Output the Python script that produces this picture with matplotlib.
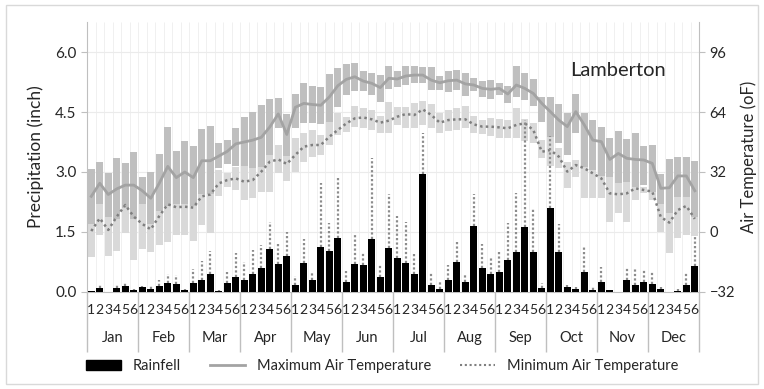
import numpy as np
import matplotlib.pyplot as plt
from matplotlib.patches import Rectangle
from matplotlib.lines import Line2D
from matplotlib.transforms import blended_transform_factory

months = ["Jan", "Feb", "Mar", "Apr", "May", "Jun",
          "Jul", "Aug", "Sep", "Oct", "Nov", "Dec"]
periods = ["1", "2", "3", "4", "5", "6"]

# rainfall (inch) per 5-day period and the top of its dotted error bar
rain = [0.02, 0.10, 0.00, 0.09, 0.14, 0.05,
        0.12, 0.08, 0.15, 0.22, 0.21, 0.05,
        0.23, 0.31, 0.44, 0.03, 0.23, 0.38,
        0.29, 0.46, 0.59, 1.07, 0.70, 0.90,
        0.17, 0.72, 0.29, 1.13, 1.03, 1.36,
        0.25, 0.71, 0.68, 1.32, 0.38, 1.10,
        0.85, 0.72, 0.45, 2.94, 0.18, 0.08,
        0.29, 0.75, 0.26, 1.65, 0.61, 0.44,
        0.49, 0.79, 0.99, 1.63, 1.00, 0.09,
        2.09, 0.99, 0.13, 0.08, 0.49, 0.06,
        0.25, 0.04, 0.00, 0.31, 0.18, 0.25,
        0.20, 0.08, 0.00, 0.03, 0.18, 0.66]
rain_hi = [0.02, 0.17, 0.00, 0.21, 0.22, 0.07,
           0.14, 0.17, 0.30, 0.45, 0.43, 0.07,
           0.58, 0.78, 1.03, 0.04, 0.50, 0.98,
           0.76, 1.05, 1.17, 1.76, 1.19, 1.50,
           0.40, 1.32, 0.47, 2.72, 1.72, 2.84,
           0.53, 1.43, 0.97, 3.34, 0.68, 2.46,
           1.90, 1.76, 0.95, 3.98, 0.47, 0.28,
           0.68, 1.25, 0.45, 2.45, 1.20, 0.84,
           1.00, 1.72, 2.47, 4.30, 2.07, 0.23,
           3.90, 1.70, 0.17, 0.13, 1.13, 0.12,
           0.63, 0.04, 0.00, 0.62, 0.57, 0.57,
           0.50, 0.13, 0.00, 0.08, 0.48, 1.40]

# air temperature (oF)
tmax = [19, 26, 20, 23, 25, 25,
        22, 18, 26, 35, 29, 32,
        29, 38, 38, 40.5, 43, 47,
        48, 49, 50.5, 56, 63, 52,
        66.5, 68.6, 68, 67.6, 72, 78,
        81.4, 82.8, 80.5, 79.3, 77, 82,
        81.6, 83.2, 83.7, 83.7, 81, 79.6,
        80.7, 81, 79, 78.4, 76.6, 76.1,
        76.6, 73.6, 78.4, 76.6, 73.9, 68.6,
        64.2, 59.7, 56.2, 64.2, 57.1, 49,
        48.2, 38.7, 41.9, 39.3, 38.7, 38.4,
        36.6, 23.3, 23.6, 29.9, 29.9, 22]
tmax_hi = [33.4, 37.2, 31.3, 39.3, 36.6, 42.8,
           29.2, 32.2, 41.4, 56.2, 43.4, 48.7,
           45.9, 54.8, 56.5, 47.3, 49.1, 55.6,
           61.5, 64.2, 67.7, 70.9, 71.3, 62.7,
           73.4, 79.3, 78, 77.5, 84.3, 87.6,
           89.4, 90, 86.1, 85, 83.7, 88.7,
           85.9, 88.7, 88.7, 88.2, 87.8, 83.2,
           85.9, 86.4, 85, 82, 80.7, 81.1,
           79.6, 77.9, 88.7, 84.6, 81.4, 71.8,
           71.8, 68.3, 63.3, 73.6, 63.3, 59.7,
           55.8, 49.9, 54, 49.4, 53, 45.9,
           46.4, 31, 38.7, 40.2, 40.2, 37.9]
tmax_lo = [4.3, 15, 8, 7, 13, 7,
           15, 4, 11, 14, 15, 15,
           14, 20, 20, 34, 36, 35,
           35, 34, 34.8, 41.1, 55.3, 40.5,
           55.3, 57.9, 57.9, 57.4, 58.8, 66.5,
           73.1, 75.4, 75.4, 73.1, 69.5, 76.1,
           77.1, 78.4, 79.3, 79.6, 75.7, 75.7,
           74.8, 75.7, 72.5, 75.4, 71.8, 70.9,
           73.1, 68.6, 72.2, 70.4, 67.2, 58.8,
           50.8, 47.3, 41.1, 52.6, 34.8, 33.1,
           29.9, 29.5, 25.9, 26.8, 24.2, 25.1,
           21.5, 15, 9.9, 18.8, 18.8, 8.2]
tmin = [0.5, 7.3, 1.1, 8.2, 14.4, 8.2,
        4.3, 1.4, 8.5, 14.8, 13.2, 13.5,
        13, 19, 20, 25.9, 27.7, 28.6,
        26.8, 27.7, 32.2, 37.5, 38.7, 36.3,
        41.1, 45.5, 46.4, 46.4, 50.8, 54.4,
        57.9, 60.6, 61.1, 60.1, 58.3, 59.4,
        61.5, 62.9, 62.4, 65.4, 62.4, 58.3,
        59.7, 60.1, 60.1, 57.4, 56.2, 56.2,
        55.8, 55.3, 57.1, 58, 54.4, 42.8,
        43.7, 40.2, 32.2, 35.7, 34, 31.3,
        28.6, 20.6, 20.1, 20.6, 23.3, 22.4,
        21.5, 8, 5, 11.7, 13.9, 7]
tmin_hi = [14.2, 16.2, 15, 26.4, 29.5, 31.3,
           17.7, 13.6, 24, 35.1, 28.2, 28.4,
           30.7, 34.3, 40.7, 32.8, 31.4, 34.7,
           36.6, 37.4, 43.1, 53.7, 46.4, 45.6,
           50, 52.6, 54.4, 51.7, 58.8, 63.3,
           61.5, 67.2, 65.9, 65.1, 61.9, 69.1,
           66.8, 66.8, 69, 70, 68.5, 63.5,
           65, 66, 67, 62, 60, 61,
           60.5, 59.7, 66, 60.1, 57.9, 49.1,
           52.6, 44.6, 37.5, 38.4, 46, 44.6,
           39.2, 35.7, 30.2, 35.7, 29.6, 24.2,
           26, 15.8, 21.4, 26.8, 29.4, 16]
tmin_lo = [-13.2, -1.6, -12.8, -10, -0.7, -14.9,
           -9.1, -10.8, -7, -5.5, -1.8, -1.4,
           -4.7, 3.7, -0.7, 19, 24, 22.5,
           17, 18, 21.3, 21.3, 31.3, 27,
           32, 37.5, 40.2, 41.1, 46.4, 51.7,
           53.5, 56.2, 55.3, 54.4, 52.6, 52.6,
           57.1, 55.3, 55.3, 57, 55.5, 53,
           54, 54.4, 55.3, 53, 52.5, 51,
           50, 49.9, 50, 48.7, 47.3, 39.3,
           35, 34, 23.3, 29.5, 18, 18,
           18, 5.5, 10, 5.5, 17, 20.6,
           17, 0.2, -11.4, -3.4, -1.6, -2]

plt.rcParams['font.family'] = ['Lato', 'DejaVu Sans']
axis_grey = '#bfbfbf'
text_col = '#262626'

fig = plt.figure(figsize=(7.64, 3.89), dpi=100)
ax = fig.add_axes([0.1139, 0.2494, 0.8011, 0.694])
ax2 = ax.twinx()
ax.set_zorder(ax2.get_zorder() + 1)
ax.patch.set_visible(False)

x = np.arange(len(rain))

# background grid on the temperature axis
ax2.vlines(np.arange(-0.5, len(x)), -32, 112, color='#f0f0f0', lw=0.7, zorder=0)
for t in [0, 32, 64, 96]:
    ax2.axhline(t, color='#ebebeb', lw=0.8, zorder=0)

# temperature ranges and means
ax2.bar(x, np.subtract(tmin_hi, tmin_lo), bottom=tmin_lo, width=0.82,
        color='#d9d9d9', zorder=2)
ax2.bar(x, np.subtract(tmax_hi, tmax_lo), bottom=tmax_lo, width=0.82,
        color='#bfbfbf', zorder=3)
ax2.plot(x, tmax, color='#a3a3a3', lw=2, zorder=4)
ax2.plot(x, tmin, color='#7f7f7f', lw=1.8, ls=(0, (1, 1.3)), zorder=4)

# rainfall
ax.bar(x, rain, width=0.85, color='black', zorder=3)
has_err = np.array(rain_hi) > np.array(rain)
ax.vlines(x[has_err], np.array(rain)[has_err], np.array(rain_hi)[has_err],
          color='#8c8c8c', lw=1.6, linestyles=(0, (1, 1)), zorder=2)

ax.set_xlim(-0.5, len(x) - 0.5)
ax.set_ylim(0, 6.75)
ax2.set_ylim(-32, 112)

ax.set_yticks([0, 1.5, 3.0, 4.5, 6.0])
ax.set_yticklabels(["%.1f" % v for v in [0, 1.5, 3.0, 4.5, 6.0]])
ax2.set_yticks([-32, 0, 32, 64, 96])

# month separators as long major ticks, period numbers as minor labels
ax.set_xticks(np.arange(-0.5, len(x), 6))
ax.set_xticklabels([])
ax.set_xticks(x, minor=True)
ax.set_xticklabels(periods * 12, minor=True)
ax.tick_params(axis='x', which='major', length=43, color=axis_grey, width=1)
ax.tick_params(axis='x', which='minor', length=0, pad=9, labelsize=10,
               labelcolor=text_col)
ax.tick_params(axis='y', length=4, color=axis_grey, labelsize=11,
               labelcolor=text_col)
ax2.tick_params(axis='y', length=4, color=axis_grey, labelsize=10.5,
                labelcolor=text_col)

trans = blended_transform_factory(ax.transData, ax.transAxes)
for i, m in enumerate(months):
    ax.text(6 * i + 2.5, -0.17, m, transform=trans, ha='center', va='center',
            fontsize=10.5, color=text_col)

for a in (ax, ax2):
    a.spines['top'].set_visible(False)
ax.spines['right'].set_visible(False)
ax2.spines['left'].set_visible(False)
ax2.spines['bottom'].set_visible(False)
ax.spines['left'].set_color(axis_grey)
ax.spines['bottom'].set_color(axis_grey)
ax2.spines['right'].set_color(axis_grey)

ax.set_ylabel("Precipitation (inch)", fontsize=12.5, color=text_col, labelpad=8)
ax2.set_ylabel("Air Temperature (oF)", fontsize=12, color=text_col, labelpad=4)

ax.text(0.868, 0.822, "Lamberton", transform=ax.transAxes, ha='center',
        va='center', fontsize=14.5, color=text_col)

handles = [Rectangle((0, 0), 1, 1, color='black'),
           Line2D([], [], color='#a3a3a3', lw=2),
           Line2D([], [], color='#7f7f7f', lw=1.5, ls=(0, (1, 1.3)))]
fig.legend(handles, ["Rainfell", "Maximum Air Temperature", "Minimum Air Temperature"],
           loc='center', bbox_to_anchor=(0.5, 0.059), ncol=3, frameon=False,
           fontsize=10.5, handlelength=2.4, columnspacing=2.0, labelcolor=text_col)

fig.patches.append(Rectangle((0.008, 0.012), 0.984, 0.974, transform=fig.transFigure,
                             fill=False, edgecolor='#d9d9d9', lw=1))

fig.savefig("out.png", dpi=100)
